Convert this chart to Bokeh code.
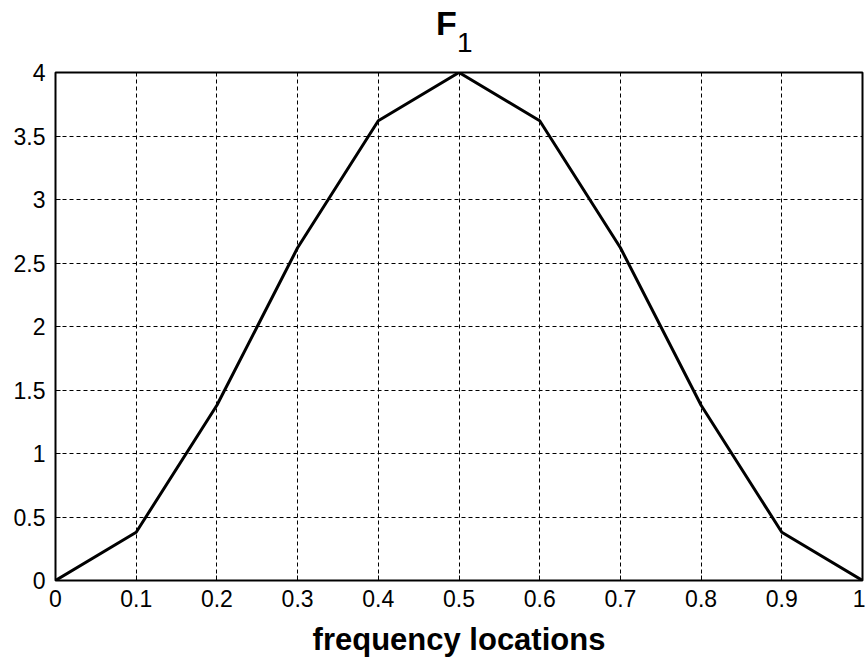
from bokeh.plotting import figure
from bokeh.models import FixedTicker, Range1d, Div
from bokeh.layouts import column
from bokeh.embed import file_html
from bokeh.resources import INLINE

freq = [0.0, 0.1, 0.2, 0.3, 0.4, 0.5, 0.6, 0.7, 0.8, 0.9, 1.0]
f1 = [0.0, 0.38, 1.38, 2.62, 3.62, 4.0, 3.62, 2.62, 1.38, 0.38, 0.0]
xticks = [0, 0.1, 0.2, 0.3, 0.4, 0.5, 0.6, 0.7, 0.8, 0.9, 1]
yticks = [0, 0.5, 1, 1.5, 2, 2.5, 3, 3.5, 4]
title_main = "F"
title_sub = "1"
x_label = "frequency locations"

FONT = "Liberation Sans"

p = figure(output_backend="svg", toolbar_location=None,
           frame_width=807, frame_height=508,
           x_range=Range1d(0, 1), y_range=Range1d(0, 4),
           min_border_left=55, min_border_right=3, min_border_top=14, min_border_bottom=60)
p.title.visible = False
p.background_fill_color = "white"
p.border_fill_color = "white"
p.outline_line_color = "black"
p.outline_line_width = 2

p.line(freq, f1, line_color="black", line_width=3)

for ax in (p.xaxis, p.yaxis):
    ax.axis_line_color = None
    ax.major_tick_line_color = "black"
    ax.major_tick_in = 5
    ax.major_tick_out = 0
    ax.minor_tick_line_color = None
    ax.major_label_text_font = FONT
    ax.major_label_text_font_size = "23px"
    ax.major_label_text_color = "black"

p.xaxis.ticker = FixedTicker(ticks=xticks)
p.yaxis.ticker = FixedTicker(ticks=yticks)
p.xaxis.major_label_overrides = {0: "0", 1: "1"}
p.yaxis.major_label_overrides = {0: "0", 1: "1", 2: "2", 3: "3", 4: "4"}
p.xaxis.major_label_standoff = 9
p.yaxis.major_label_standoff = 10

p.xaxis.axis_label = x_label
p.xaxis.axis_label_text_font = FONT
p.xaxis.axis_label_text_font_size = "31px"
p.xaxis.axis_label_text_font_style = "bold"
p.xaxis.axis_label_text_color = "black"
p.xaxis.axis_label_standoff = 12

for g in (p.xgrid, p.ygrid):
    g.grid_line_color = "black"
    g.grid_line_dash = "4 3"
    g.grid_line_width = 1
    g.grid_line_alpha = 1.0

title_html = (
    '<div style="position:relative;width:865px;height:58px;background:white;">'
    '<span style="position:absolute;left:436px;top:6px;font-family:\'Liberation Sans\';'
    'font-weight:bold;font-size:34px;line-height:34px;color:black;">' + title_main + '</span>'
    '<span style="position:absolute;left:457px;top:29px;font-family:\'Liberation Sans\';'
    'font-weight:normal;font-size:28px;line-height:28px;color:black;">' + title_sub + '</span>'
    '</div>'
)
title_div = Div(text=title_html, width=865, height=58, margin=0)

layout = column(title_div, p, spacing=0, margin=0)

open("out.html", "w").write(file_html(layout, INLINE))
